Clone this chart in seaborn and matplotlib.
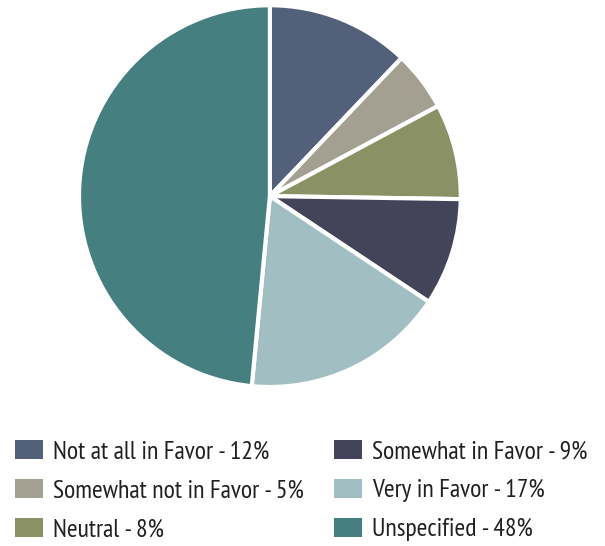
import matplotlib
matplotlib.use('Agg')
import matplotlib.pyplot as plt
import seaborn as sns
from matplotlib.patches import Patch

sns.set_style('white')
plt.rcParams['font.family'] = ['PT Sans Narrow', 'Liberation Sans Narrow', 'DejaVu Sans']

categories = ['Not at all in Favor', 'Somewhat not in Favor', 'Neutral',
              'Somewhat in Favor', 'Very in Favor', 'Unspecified']
shares = [12, 5, 8, 9, 17, 48]
colors = ['#536079', '#a3a092', '#8a9265', '#434459', '#a1bec2', '#457f80']

fig = plt.figure(figsize=(6.05, 5.46), dpi=100, facecolor='white')
ax = fig.add_axes([0.1306, 0.291, 0.631, 0.6996])
ax.pie(shares, colors=colors, startangle=90, counterclock=False, radius=1,
       wedgeprops={'edgecolor': 'white', 'linewidth': 3})
ax.set_xlim(-1, 1)
ax.set_ylim(-1, 1)
ax.set_aspect('equal')
ax.axis('off')

handles = [Patch(facecolor=c, edgecolor='none') for c in colors]
labels = [f'{c} - {v}%' for c, v in zip(categories, shares)]

# two columns placed separately so each lines up with the reference
legend_style = dict(loc='upper left', frameon=False, fontsize=18.5,
                    labelcolor='#231f20', handlelength=1.09, handleheight=0.74,
                    handletextpad=0.39, labelspacing=0.61,
                    borderpad=0, borderaxespad=0)
fig.legend(handles[:3], labels[:3], bbox_to_anchor=(15 / 605, 0.194), **legend_style)
fig.legend(handles[3:], labels[3:], bbox_to_anchor=(334 / 605, 0.194), **legend_style)

fig.savefig('out.png', dpi=100, facecolor='white')
